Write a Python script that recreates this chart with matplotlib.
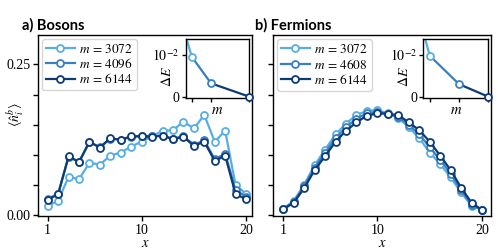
import matplotlib
matplotlib.use('Agg')
import matplotlib.pyplot as plt

plt.rcParams['font.family'] = ['Liberation Serif', 'DejaVu Serif']
plt.rcParams['mathtext.fontset'] = 'stix'
plt.rcParams['font.size'] = 10
plt.rcParams['axes.linewidth'] = 1.0

# site index
sites = list(range(1, 21))

# bosons, <n_i^b> per bond dimension
boson_labels = ['3072', '4096', '6144']
boson_3072 = [0.016, 0.024, 0.064, 0.060, 0.087, 0.084, 0.099, 0.104, 0.114, 0.122,
              0.131, 0.140, 0.141, 0.155, 0.144, 0.166, 0.122, 0.140, 0.050, 0.036]
boson_4096 = [0.027, 0.036, 0.097, 0.089, 0.121, 0.113, 0.127, 0.125, 0.130, 0.131,
              0.131, 0.132, 0.127, 0.131, 0.117, 0.124, 0.093, 0.102, 0.042, 0.031]
boson_6144 = [0.026, 0.035, 0.098, 0.088, 0.122, 0.112, 0.128, 0.125, 0.131, 0.131,
              0.130, 0.132, 0.126, 0.130, 0.115, 0.122, 0.090, 0.099, 0.035, 0.027]

# fermions
fermion_labels = ['3072', '4608', '6144']
fermion_3072 = [0.011, 0.024, 0.051, 0.083, 0.109, 0.134, 0.152, 0.166, 0.173, 0.174,
                0.169, 0.161, 0.146, 0.128, 0.104, 0.085, 0.063, 0.038, 0.016, 0.009]
fermion_4608 = [0.0105, 0.0225, 0.048, 0.079, 0.1035, 0.128, 0.146, 0.160, 0.169, 0.171,
                0.168, 0.163, 0.150, 0.134, 0.113, 0.092, 0.069, 0.042, 0.018, 0.009]
fermion_6144 = [0.010, 0.021, 0.045, 0.075, 0.098, 0.122, 0.140, 0.154, 0.165, 0.169,
                0.168, 0.166, 0.154, 0.141, 0.122, 0.099, 0.075, 0.046, 0.021, 0.009]

# energy differences for the insets (first point lies outside the inset window)
boson_m = [2048, 3072, 4096, 6144]
boson_dE = [0.0250, 0.0095, 0.0032, 0.0]
fermion_m = [1536, 3072, 4608, 6144]
fermion_dE = [0.0355, 0.0098, 0.0030, 0.0]

colors = ['#58aee3', '#3a7fc0', '#0e3b75']

fig = plt.figure(figsize=(4.98, 2.5), dpi=100)
ax_b = fig.add_axes([38 / 498, 34 / 250, 214 / 498, 181 / 250])
ax_f = fig.add_axes([273 / 498, 34 / 250, 218 / 498, 181 / 250], sharey=ax_b)

panels = [
    (ax_b, [boson_3072, boson_4096, boson_6144], boson_labels, boson_m, boson_dE, (0.07, 20.57)),
    (ax_f, [fermion_3072, fermion_4608, fermion_6144], fermion_labels, fermion_m, fermion_dE, (0.02, 20.86)),
]

for ax, series, labels, m, dE, xl in panels:
    for vals, lab, c in zip(series, labels, colors):
        ax.plot(sites, vals, '-o', color=c, lw=1.6, ms=5, mfc='white', mew=1.3,
                label=r'$m\, =\, %s$' % lab)
    ax.set_xlim(*xl)
    ax.set_xticks([1, 10, 20])
    ax.set_xlabel(r'$x$', labelpad=0, fontsize=10.5)
    ax.tick_params(direction='out', length=3.5, width=1.0, pad=2, labelsize=10)
    ax.legend(loc='upper left', fontsize=9.5, handlelength=2.2, labelspacing=0.12,
              borderpad=0.3, handletextpad=0.3, borderaxespad=0.3, framealpha=0.8,
              edgecolor='#cccccc')

    ins = ax.inset_axes([0.69, 0.652, 0.298, 0.326])
    for i in range(len(m) - 1):
        ins.plot(m[i:i + 2], dE[i:i + 2], '-', color=colors[i], lw=1.6)
    for i in range(1, len(m)):
        ins.plot(m[i], dE[i], 'o', color=colors[i - 1], ms=5, mfc='white', mew=1.3,
                 clip_on=False, zorder=5)
    ins.set_xlim(2740, 6144)
    ins.set_ylim(-0.0003, 0.0138)
    ins.set_xticks(m[1:])
    ins.set_xticklabels([])
    ins.set_yticks([0, 0.01])
    ins.set_yticklabels(['0', r'$10^{-2}$'])
    ins.set_xlabel(r'$m$', labelpad=0, fontsize=10.5)
    ins.set_ylabel(r'$\Delta E$', fontsize=10)
    ins.yaxis.set_label_coords(-0.19, 0.36)
    ins.tick_params(direction='out', length=3, width=1.0, pad=1.5, labelsize=10)

ax_b.set_ylim(-0.001, 0.2985)
ax_b.set_yticks([0, 0.05, 0.10, 0.15, 0.20, 0.25])
ax_b.set_yticklabels(['0.00', '', '', '', '', '0.25'])
ax_b.set_ylabel(r'$\langle \hat{n}_i^b \rangle$', fontsize=10)
ax_b.yaxis.set_label_coords(-0.05, 0.56)
plt.setp(ax_f.get_yticklabels(), visible=False)

fig.text(22 / 498, 1 - 25 / 250, 'a) Bosons', family='Lato', weight='bold',
         fontsize=10.5, va='center', ha='left')
fig.text(255 / 498, 1 - 25 / 250, 'b) Fermions', family='Lato', weight='bold',
         fontsize=10.5, va='center', ha='left')

fig.savefig('out.png', dpi=100)
